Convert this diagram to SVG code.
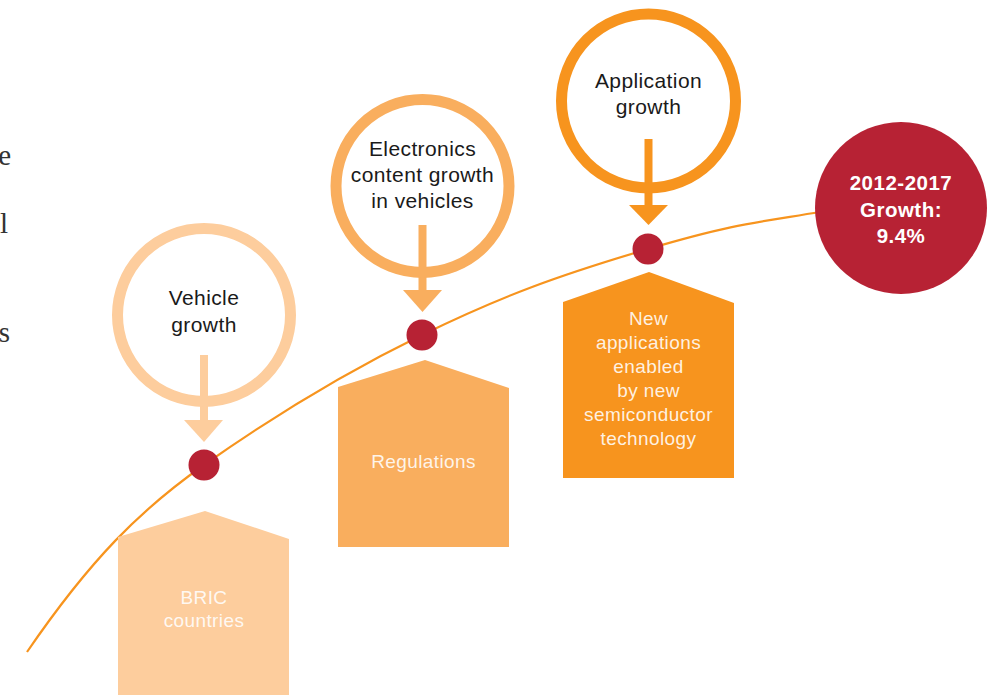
<svg xmlns="http://www.w3.org/2000/svg" width="994" height="695" viewBox="0 0 994 695">
  <style>
    .lbl { font-family: "Liberation Sans", Arial, sans-serif; font-size: 21px; fill: #1a1a1a; text-anchor: middle; letter-spacing: 0.4px; }
    .box { font-family: "Liberation Sans", Arial, sans-serif; font-size: 19px; fill: #ffffff; fill-opacity: 0.88; text-anchor: middle; letter-spacing: 0.4px; }
    .big { font-family: "Liberation Sans", Arial, sans-serif; font-size: 20.5px; font-weight: bold; fill: #ffffff; text-anchor: middle; letter-spacing: 0.5px; }
    .side { font-family: "Liberation Serif", "Times New Roman", serif; font-size: 29px; fill: #333333; text-anchor: end; }
    .dot { fill: #B72234; }
    .c1 { fill: none; stroke: #FDCD9D; stroke-width: 11; }
    .c2 { fill: none; stroke: #F9AE5E; stroke-width: 11; }
    .c3 { fill: none; stroke: #F7941E; stroke-width: 11; }
    .f1 { fill: #FDCD9D; }
    .f2 { fill: #F9AE5E; }
    .f3 { fill: #F7941E; }
  </style>
  <rect x="0" y="0" width="994" height="695" fill="#ffffff"/>

  <!-- cropped side text -->
  <g id="side-text">
    <text class="side" x="11" y="165">e</text>
    <text class="side" x="8" y="233">l</text>
    <text class="side" x="10" y="342">s</text>
  </g>

  <!-- connectors -->
  <g id="connectors">
    <path d="M27,652 C90,560 140,510 204,465 S340,375 422,335 S560,275 648,249 S760,222 820,212" fill="none" stroke="#F7941E" stroke-width="2.2"/>
    <g id="arrow1" class="f1">
      <rect x="200" y="355" width="8" height="66"/>
      <polygon points="184,420 223,420 204,442"/>
    </g>
    <g id="arrow2" class="f2">
      <rect x="418.5" y="225" width="8" height="66"/>
      <polygon points="403,290 442,290 422.5,312"/>
    </g>
    <g id="arrow3" class="f3">
      <rect x="644.5" y="139" width="8" height="67"/>
      <polygon points="629,205 668,205 648.5,225"/>
    </g>
  </g>

  <!-- driver circles -->
  <g id="vehicle-growth">
    <circle class="c1" cx="204" cy="315" r="86.5"/>
    <text class="lbl" x="204" y="305">Vehicle</text>
    <text class="lbl" x="204" y="332">growth</text>
  </g>
  <g id="electronics-growth">
    <circle class="c2" cx="422.5" cy="186" r="86.5"/>
    <text class="lbl" x="422.5" y="156">Electronics</text>
    <text class="lbl" x="422.5" y="182">content growth</text>
    <text class="lbl" x="422.5" y="208">in vehicles</text>
  </g>
  <g id="application-growth">
    <circle class="c3" cx="648.5" cy="101" r="87"/>
    <text class="lbl" x="648.5" y="88">Application</text>
    <text class="lbl" x="648.5" y="114">growth</text>
  </g>

  <!-- dots on curve -->
  <g id="dot1"><circle class="dot" cx="204" cy="465" r="15.5"/></g>
  <g id="dot2"><circle class="dot" cx="422" cy="335" r="15.5"/></g>
  <g id="dot3"><circle class="dot" cx="648" cy="249" r="15.5"/></g>

  <!-- pentagon boxes -->
  <g id="bric">
    <polygon class="f1" points="118,537 205,511 289,539 289,695 118,695"/>
    <text class="box" x="204" y="604">BRIC</text>
    <text class="box" x="204" y="627">countries</text>
  </g>
  <g id="regulations">
    <polygon class="f2" points="338,387 425,360 509,388 509,547 338,547"/>
    <text class="box" x="423.5" y="468">Regulations</text>
  </g>
  <g id="new-applications">
    <polygon class="f3" points="563,302 649,272 734,303 734,478 563,478"/>
    <text class="box" x="648.5" y="325">New</text>
    <text class="box" x="648.5" y="349">applications</text>
    <text class="box" x="648.5" y="373">enabled</text>
    <text class="box" x="648.5" y="397">by new</text>
    <text class="box" x="648.5" y="421">semiconductor</text>
    <text class="box" x="648.5" y="445">technology</text>
  </g>

  <!-- result circle -->
  <g id="growth-result">
    <circle cx="901" cy="208" r="86" fill="#B72234"/>
    <text class="big" x="901" y="190">2012-2017</text>
    <text class="big" x="901" y="217">Growth:</text>
    <text class="big" x="901" y="243">9.4%</text>
  </g>
</svg>
